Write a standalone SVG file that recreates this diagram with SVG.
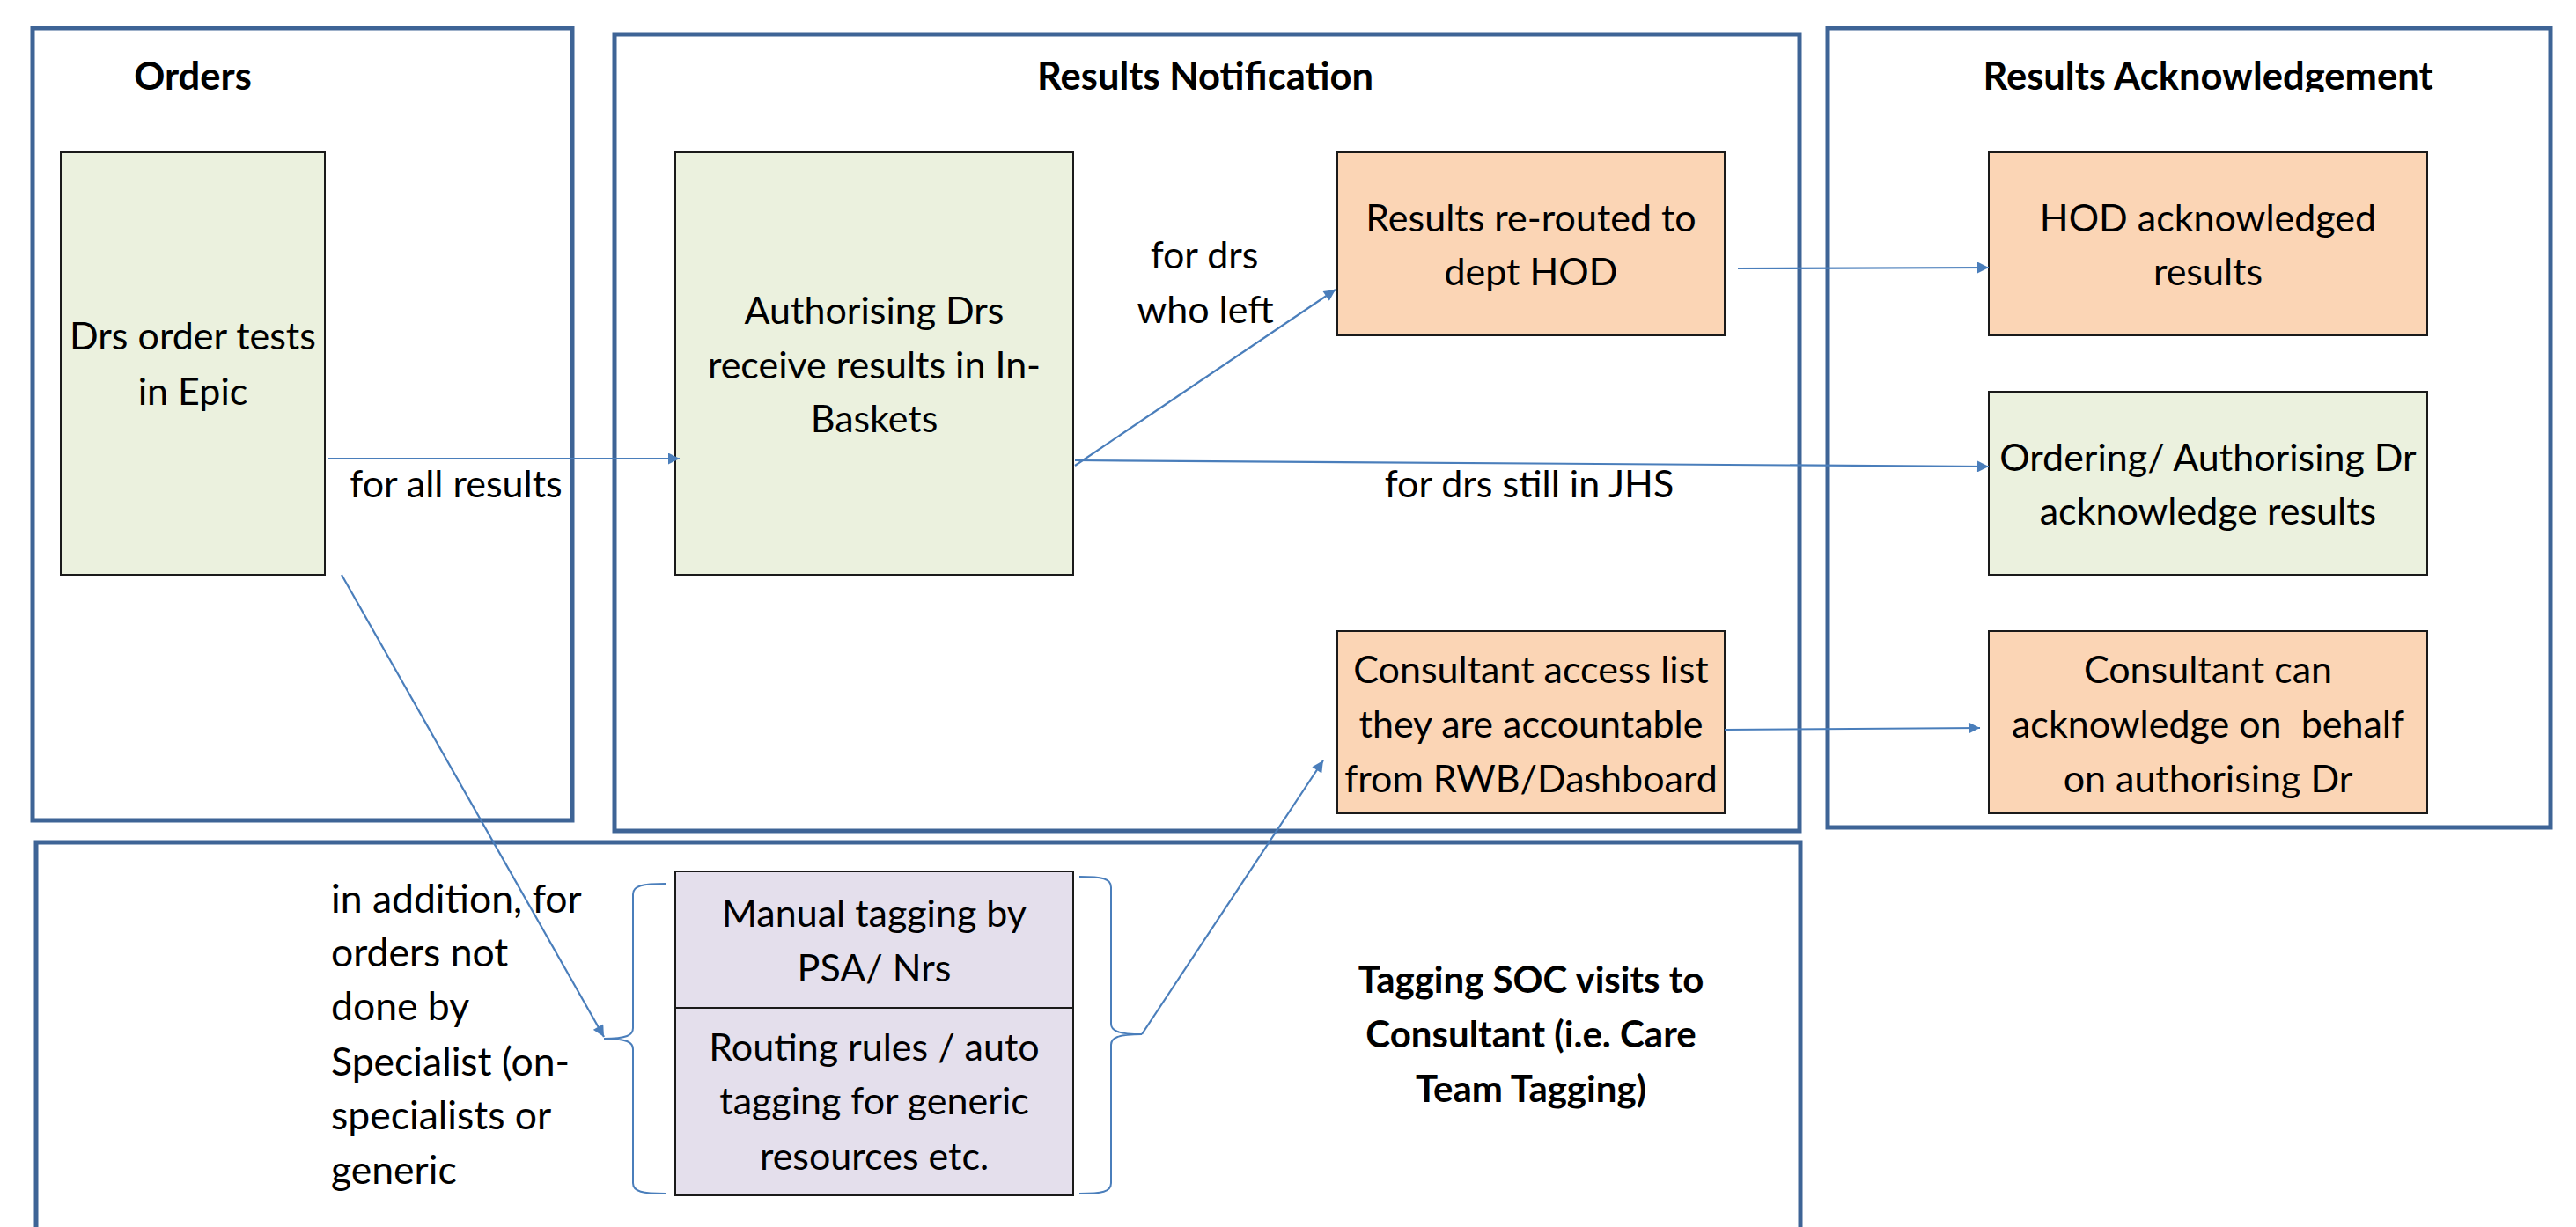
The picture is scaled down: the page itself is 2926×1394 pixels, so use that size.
<svg xmlns="http://www.w3.org/2000/svg" width="2926" height="1394" viewBox="0 0 2926 1394">
  <style>
    .frame { fill: none; stroke: #3E6496; stroke-width: 5; }
    .box { stroke: #1a1a1a; stroke-width: 2; }
    .green { fill: #EBF1DE; }
    .peach { fill: #FBD5B5; }
    .lilac { fill: #E4DFEC; }
    .t { font-family: Lato, "Liberation Sans", sans-serif; font-size: 43px; fill: #000; text-anchor: middle; }
    .l { font-family: Lato, "Liberation Sans", sans-serif; font-size: 44.5px; fill: #000; }
    .h { font-family: Lato, "Liberation Sans", sans-serif; font-size: 43.5px; font-weight: bold; fill: #000; text-anchor: middle; }
    .h2 { font-size: 42px; }
    .conn { fill: none; stroke: #4A7EBB; stroke-width: 2.2; }
    .brace { fill: none; stroke: #4A7EBB; stroke-width: 2; }
  </style>
  <defs>
    <marker id="arrow" viewBox="0 0 10 10" refX="10" refY="5" markerWidth="15" markerHeight="13" markerUnits="userSpaceOnUse" orient="auto">
      <path d="M0,0 L10,5 L0,10 z" fill="#4A7EBB"/>
    </marker>
    <clipPath id="ackTitleClip">
      <rect x="2080" y="40" width="810" height="65"/>
    </clipPath>
  </defs>
  <rect width="2926" height="1394" fill="#fff"/>

  <!-- swimlane frames -->
  <g id="lane-orders">
    <rect class="frame" x="37" y="32" width="613" height="900"/>
    <text class="h" x="219" y="102">Orders</text>
  </g>
  <g id="lane-notification">
    <rect class="frame" x="698" y="39" width="1346" height="905"/>
    <text class="h" x="1369" y="102">Results Notification</text>
  </g>
  <g id="lane-acknowledgement">
    <rect class="frame" x="2076" y="32" width="821" height="908"/>
    <text class="h" x="2508" y="102" clip-path="url(#ackTitleClip)">Results Acknowledgement</text>
  </g>
  <g id="lane-tagging">
    <rect class="frame" x="41" y="957" width="2004" height="460"/>
    <text class="h h2" x="1739" y="1128">Tagging SOC visits to</text>
    <text class="h h2" x="1739" y="1190">Consultant (i.e. Care</text>
    <text class="h h2" x="1739" y="1252">Team Tagging)</text>
  </g>

  <!-- process nodes -->
  <g id="drs-order">
    <rect class="box green" x="69" y="173" width="300" height="480"/>
    <text class="t" x="219" y="397">Drs order tests</text>
    <text class="t" x="219" y="460">in Epic</text>
  </g>
  <g id="authorising-drs">
    <rect class="box green" x="767" y="173" width="452" height="480"/>
    <text class="t" x="993" y="368">Authorising Drs</text>
    <text class="t" x="993" y="430">receive results in In-</text>
    <text class="t" x="993" y="491">Baskets</text>
  </g>
  <g id="rerouted-hod">
    <rect class="box peach" x="1519" y="173" width="440" height="208"/>
    <text class="t" x="1739" y="263">Results re-routed to</text>
    <text class="t" x="1739" y="324">dept HOD</text>
  </g>
  <g id="consultant-access">
    <rect class="box peach" x="1519" y="717" width="440" height="207"/>
    <text class="t" x="1739" y="776">Consultant access list</text>
    <text class="t" x="1739" y="838">they are accountable</text>
    <text class="t" x="1739" y="900">from RWB/Dashboard</text>
  </g>
  <g id="hod-ack">
    <rect class="box peach" x="2259" y="173" width="498" height="208"/>
    <text class="t" x="2508" y="263">HOD acknowledged</text>
    <text class="t" x="2508" y="324">results</text>
  </g>
  <g id="ordering-ack">
    <rect class="box green" x="2259" y="445" width="498" height="208"/>
    <text class="t" x="2508" y="535">Ordering/ Authorising Dr</text>
    <text class="t" x="2508" y="596">acknowledge results</text>
  </g>
  <g id="consultant-ack">
    <rect class="box peach" x="2259" y="717" width="498" height="207"/>
    <text class="t" x="2508" y="776">Consultant can</text>
    <text class="t" x="2508" y="838" xml:space="preserve">acknowledge on  behalf</text>
    <text class="t" x="2508" y="900">on authorising Dr</text>
  </g>
  <g id="manual-tagging">
    <rect class="box lilac" x="767" y="990" width="452" height="155"/>
    <text class="t" x="993" y="1053">Manual tagging by</text>
    <text class="t" x="993" y="1115">PSA/ Nrs</text>
  </g>
  <g id="routing-rules">
    <rect class="box lilac" x="767" y="1145" width="452" height="213"/>
    <text class="t" x="993" y="1205">Routing rules / auto</text>
    <text class="t" x="993" y="1266">tagging for generic</text>
    <text class="t" x="993" y="1329">resources etc.</text>
  </g>
  <g id="tagging-braces">
    <path class="brace" d="M756,1004 C730,1004 719,1006 719,1016 L719,1168 C719,1176 712,1180 686,1180 C712,1180 719,1184 719,1192 L719,1344 C719,1354 730,1356 756,1356"/>
    <path class="brace" d="M1226,996 C1252,996 1262,998 1262,1008 L1262,1163 C1262,1171 1270,1175 1297,1175 C1270,1175 1262,1179 1262,1187 L1262,1344 C1262,1354 1252,1356 1226,1356"/>
  </g>

  <!-- connectors -->
  <g id="connectors">
    <line class="conn" x1="373" y1="521" x2="772" y2="521" marker-end="url(#arrow)"/>
    <line class="conn" x1="1221" y1="529" x2="1517" y2="329" marker-end="url(#arrow)"/>
    <line class="conn" x1="1221" y1="523" x2="2259" y2="530" marker-end="url(#arrow)"/>
    <line class="conn" x1="1974" y1="305" x2="2259" y2="304" marker-end="url(#arrow)"/>
    <line class="conn" x1="1959" y1="829" x2="2249" y2="827" marker-end="url(#arrow)"/>
    <line class="conn" x1="388" y1="653" x2="686" y2="1178" marker-end="url(#arrow)"/>
    <line class="conn" x1="1297" y1="1175" x2="1503" y2="864" marker-end="url(#arrow)"/>
  </g>

  <!-- connector labels -->
  <g id="labels">
    <text class="t" x="518" y="565">for all results</text>
    <text class="t" x="1368" y="305">for drs</text>
    <text class="t" x="1369" y="367">who left</text>
    <text class="t" x="1737" y="565">for drs still in JHS</text>
    <text class="l" x="376" y="1037">in addition, for</text>
    <text class="l" x="376" y="1098">orders not</text>
    <text class="l" x="376" y="1159">done by</text>
    <text class="l" x="376" y="1222">Specialist (on-</text>
    <text class="l" x="376" y="1283">specialists or</text>
    <text class="l" x="376" y="1345">generic</text>
  </g>
</svg>
